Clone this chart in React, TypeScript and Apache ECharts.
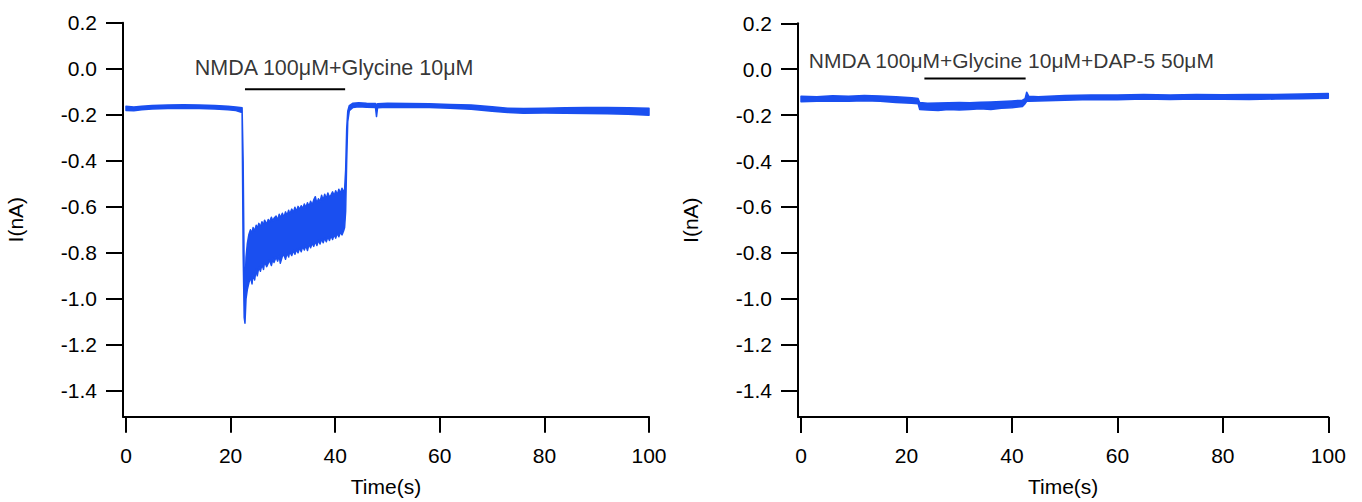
import React, { useEffect, useRef } from "react";
import * as echarts from "echarts";

const BLUE = "#1a4ff0";
const FONT = "Liberation Sans, Arial, sans-serif";

// Left panel: NMDA + Glycine
const leftTime = [
  0, 1.5, 3, 5, 8, 11, 14, 17, 19.5, 21, 22.2, 22.4, 22.6, 22.75, 22.95, 23.2, 23.5,
  23.8, 24.1, 24.3, 24.6, 24.9, 25.1, 25.4, 25.7, 26.0, 26.3, 26.5, 26.9, 27.2, 27.4, 27.8, 28.1, 28.3, 28.7, 29.0, 29.3,
  29.5, 29.9, 30.2, 30.5, 30.8, 31.1, 31.3, 31.7, 32.0, 32.3, 32.6, 32.9, 33.2, 33.5, 33.8, 34.1, 34.4, 34.7, 35.0, 35.3,
  35.6, 35.9, 36.2, 36.5, 36.8, 37.1, 37.4, 37.7, 38.0, 38.3, 38.6, 38.9, 39.2, 39.5, 39.8, 40.1, 40.4, 40.7, 41.0, 41.3,
  41.6, 41.8,
  42.0, 42.2, 42.4, 42.7, 43.4, 44.5, 46, 47.7, 47.9, 48.1, 50, 54, 58, 62, 66, 70, 73, 76, 80, 84, 88, 92, 96, 100,
];
const leftUpper = [
  -0.163, -0.166, -0.163, -0.160, -0.158, -0.157, -0.158, -0.160, -0.163, -0.166, -0.170, -0.400, -0.880, -0.950, -0.820, -0.760, -0.720,
  -0.700, -0.715, -0.690, -0.705, -0.680, -0.695, -0.672, -0.688, -0.665, -0.680,
  -0.658, -0.676, -0.655, -0.668, -0.645, -0.662, -0.650, -0.640, -0.658, -0.632,
  -0.648, -0.628, -0.645, -0.622, -0.638, -0.615, -0.632, -0.610, -0.625, -0.602,
  -0.620, -0.598, -0.612, -0.595, -0.608, -0.588, -0.603, -0.582, -0.598, -0.576,
  -0.592, -0.570, -0.556, -0.585, -0.565, -0.578, -0.550, -0.570, -0.545, -0.565,
  -0.540, -0.558, -0.548, -0.535, -0.552, -0.530, -0.548, -0.524, -0.542, -0.519,
  -0.535, -0.525,
  -0.440, -0.260, -0.185, -0.160, -0.150, -0.148, -0.150, -0.151, -0.158, -0.152, -0.150, -0.151, -0.152, -0.155, -0.158, -0.165, -0.172, -0.173, -0.172, -0.170, -0.168, -0.168, -0.170, -0.172,
];
const leftLower = [
  -0.181, -0.183, -0.178, -0.175, -0.173, -0.172, -0.173, -0.175, -0.178, -0.182, -0.190, -0.800, -1.080, -1.106, -1.000, -0.960, -0.930,
  -0.905, -0.935, -0.890, -0.918, -0.870, -0.900, -0.862, -0.880, -0.850, -0.872,
  -0.838, -0.860, -0.845, -0.830, -0.855, -0.825, -0.842, -0.818, -0.836, -0.812,
  -0.845, -0.815, -0.808, -0.828, -0.800, -0.818, -0.795, -0.812, -0.790, -0.806,
  -0.785, -0.800, -0.778, -0.795, -0.772, -0.788, -0.768, -0.790, -0.762, -0.778,
  -0.758, -0.772, -0.750, -0.768, -0.745, -0.762, -0.740, -0.756, -0.736, -0.752,
  -0.730, -0.746, -0.726, -0.742, -0.720, -0.736, -0.715, -0.730, -0.710, -0.722,
  -0.705, -0.690,
  -0.620, -0.400, -0.230, -0.182, -0.168, -0.165, -0.167, -0.168, -0.208, -0.170, -0.167, -0.168, -0.169, -0.172, -0.176, -0.185, -0.190, -0.193, -0.192, -0.193, -0.194, -0.196, -0.198, -0.202,
];

// Right panel: NMDA + Glycine + DAP-5
const rightTime = [0, 3, 6, 9, 12, 15, 18, 21, 22.2, 22.5, 24, 26, 28, 30, 32, 34, 36, 38, 40, 42, 42.5, 42.8, 43.2, 45, 50, 55, 60, 65, 70, 75, 80, 85, 90, 95, 100];
const rightUpper = [-0.118, -0.120, -0.116, -0.118, -0.115, -0.117, -0.120, -0.124, -0.128, -0.145, -0.148, -0.147, -0.146, -0.145, -0.146, -0.144, -0.143, -0.141, -0.138, -0.135, -0.128, -0.100, -0.118, -0.120, -0.115, -0.112, -0.112, -0.110, -0.112, -0.110, -0.111, -0.110, -0.110, -0.108, -0.106];
const rightLower = [-0.142, -0.140, -0.138, -0.140, -0.137, -0.140, -0.145, -0.148, -0.150, -0.175, -0.178, -0.180, -0.176, -0.178, -0.175, -0.172, -0.175, -0.170, -0.168, -0.162, -0.150, -0.140, -0.140, -0.138, -0.135, -0.132, -0.133, -0.130, -0.132, -0.130, -0.131, -0.132, -0.130, -0.129, -0.126];

const xTicks = [0, 20, 40, 60, 80, 100];
const yTicks = [0.2, 0, -0.2, -0.4, -0.6, -0.8, -1.0, -1.2, -1.4];

// Drug application bars and annotations
const leftBarTime = [22.75, 41.9];
const leftBarLevel = -0.089;
const rightBarTime = [23.4, 42.6];
const rightBarLevel = -0.04;
const leftLabelAt = [39.8, 0.005];
const rightLabelAt = [39.9, 0.04];
const leftLabel = "NMDA 100μM+Glycine 10μM";
const rightLabel = "NMDA 100μM+Glycine 10μM+DAP-5 50μM";

function xAxisCfg(gridIndex: number) {
  return {
    gridIndex,
    type: "value",
    min: -0.57,
    max: 100,
    name: "Time(s)",
    nameLocation: "middle",
    nameGap: 59,
    nameTextStyle: { fontSize: 21, color: "#000", fontFamily: FONT },
    axisLine: { show: true, onZero: false, lineStyle: { color: "#000", width: 2 } },
    axisTick: { show: true, length: 16, customValues: xTicks, lineStyle: { color: "#000", width: 2 } },
    axisLabel: { customValues: xTicks, margin: 28, fontSize: 21, color: "#000", fontFamily: FONT },
    splitLine: { show: false },
  };
}

function yAxisCfg(gridIndex: number, min: number) {
  return {
    gridIndex,
    type: "value",
    min,
    max: 0.2,
    name: "I(nA)",
    nameLocation: "middle",
    nameGap: 97,
    nameTextStyle: { fontSize: 21, color: "#000", fontFamily: FONT },
    axisLine: { show: true, onZero: false, lineStyle: { color: "#000", width: 2 } },
    axisTick: { show: true, length: 17, customValues: yTicks, lineStyle: { color: "#000", width: 2 } },
    axisLabel: {
      customValues: yTicks,
      margin: 26,
      fontSize: 21,
      color: "#000",
      fontFamily: FONT,
      formatter: (v: number) => v.toFixed(1),
    },
    splitLine: { show: false },
  };
}

function panelSeries(
  idx: number,
  time: number[],
  upper: number[],
  lower: number[],
  barTime: number[],
  barLevel: number,
  labelAt: number[],
  label: string,
  labelSize: number
) {
  return [
    {
      type: "custom",
      xAxisIndex: idx,
      yAxisIndex: idx,
      silent: true,
      data: [0],
      renderItem: (_params: any, api: any) => {
        const pts: number[][] = [];
        for (let i = 0; i < time.length; i++) pts.push(api.coord([time[i], upper[i]]));
        for (let i = time.length - 1; i >= 0; i--) pts.push(api.coord([time[i], lower[i]]));
        return {
          type: "polygon",
          shape: { points: pts },
          style: { fill: BLUE, stroke: BLUE, lineWidth: 1.5, lineJoin: "round" },
        };
      },
    },
    {
      type: "line",
      xAxisIndex: idx,
      yAxisIndex: idx,
      symbol: "none",
      silent: true,
      data: barTime.map((t) => [t, barLevel]),
      lineStyle: { color: "#000", width: 2 },
    },
    {
      type: "scatter",
      xAxisIndex: idx,
      yAxisIndex: idx,
      symbolSize: 0,
      silent: true,
      data: [labelAt],
      label: {
        show: true,
        position: "inside",
        formatter: label,
        color: "#000",
        fontSize: labelSize,
        fontFamily: FONT,
      },
    },
  ];
}

export default function App() {
  const ref = useRef<HTMLDivElement>(null);
  useEffect(() => {
    if (!ref.current) return;
    const chart = echarts.init(ref.current, null, { renderer: "svg" });
    chart.setOption({
      animation: false,
      backgroundColor: "#fff",
      textStyle: { fontFamily: FONT },
      grid: [
        { left: 123, top: 22.7, width: 526, height: 394 },
        { left: 798, top: 23.3, width: 530.3, height: 398.4 },
      ],
      xAxis: [xAxisCfg(0), xAxisCfg(1)],
      yAxis: [yAxisCfg(0, -1.512), yAxisCfg(1, -1.515)],
      series: [
        ...panelSeries(0, leftTime, leftUpper, leftLower, leftBarTime, leftBarLevel, leftLabelAt, leftLabel, 21.5),
        ...panelSeries(1, rightTime, rightUpper, rightLower, rightBarTime, rightBarLevel, rightLabelAt, rightLabel, 21),
      ],
    });
    return () => chart.dispose();
  }, []);
  return (
    <div
      ref={ref}
      style={{ position: "fixed", left: 0, top: 0, width: 1362, height: 502, background: "#fff" }}
    />
  );
}
